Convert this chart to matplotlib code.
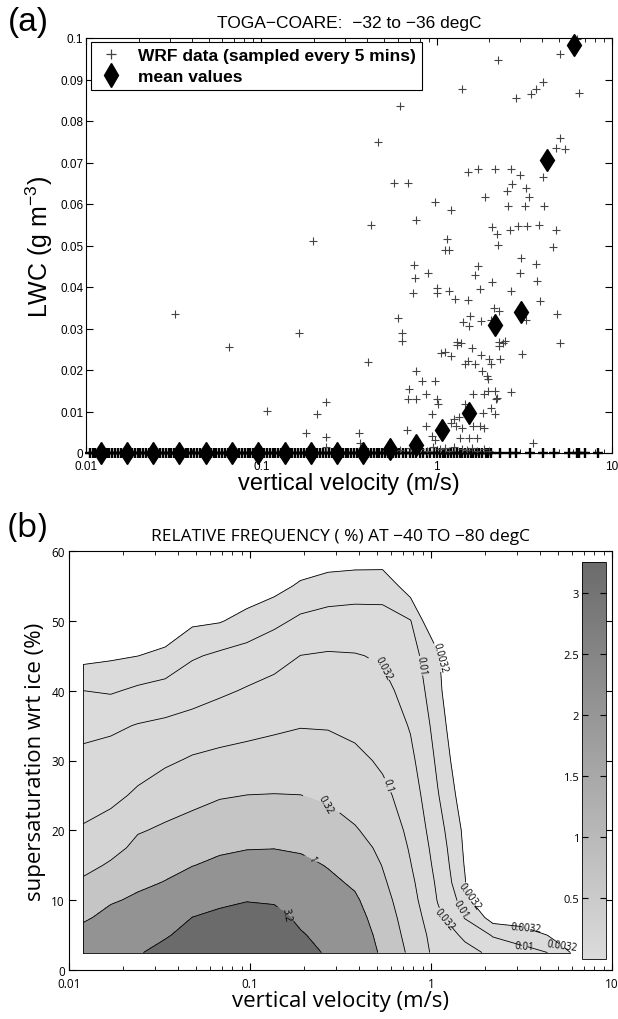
import numpy as np
import matplotlib
matplotlib.use('Agg')
import matplotlib.pyplot as plt
from matplotlib.colors import LinearSegmentedColormap, Normalize
from matplotlib.cm import ScalarMappable
from matplotlib.lines import Line2D

# ---------------- panel (a): LWC vs vertical velocity ----------------
# WRF samples with non-zero LWC (w in m/s, LWC in g m-3)
lwc_w = [2.23, 5.08, 6.3, 1.39, 2.85, 3.46, 3.68, 4.02, 6.5, 0.618,
         0.465, 5.08, 4.77, 5.37, 4.15, 0.571, 0.685, 1.51, 1.71, 2.16,
         2.67, 2.99, 4.04, 2.70, 2.52, 3.24, 3.37, 1.88, 0.975, 1.21,
         2.56, 3.20, 4.08, 0.767, 0.424, 2.08, 2.61, 2.92, 3.29, 3.84,
         4.82, 2.20, 0.198, 1.15, 2.23, 1.11, 1.17, 4.58, 0.741, 3.68,
         1.71, 0.888, 2.97, 0.752, 1.65, 2.08, 3.74, 3.04, 1.01, 1.01,
         1.17, 0.733, 1.77, 2.67, 1.28, 1.51, 3.88, 0.0321, 2.11, 2.28,
         4.84, 0.603, 1.55, 1.42, 1.53, 1.80, 2.03, 3.24, 0.165, 0.634,
         0.634, 1.31, 2.28, 2.46, 5.08, 0.065,
         3.08, 2.67, 0.408, 1.06, 1.12, 1.20, 1.31, 1.59, 1.37, 1.79,
         1.45, 1.51, 1.65, 2.03, 2.00, 2.31, 2.28, 2.40, 0.767, 0.82,
         0.975, 1.81, 1.93, 1.95, 2.14, 1.95, 1.85, 1.61, 2.20, 2.17,
         0.694, 0.69, 0.760, 0.865, 1.01, 1.02, 1.45, 0.233, 0.108, 2.05,
         1.84, 0.208, 0.936, 2.16, 1.34, 1.25, 1.20, 1.29, 0.865, 0.679,
         1.39, 1.61, 1.77, 1.87, 0.180, 0.359, 0.233, 0.936, 0.98, 1.53,
         1.70, 1.35, 3.56, 0.366, 0.233, 0.543,
         0.62, 0.70, 0.80, 0.88, 0.95, 1.05, 1.12, 1.18, 1.25, 1.40,
         1.48, 1.60, 1.70, 1.85, 2.00]
lwc_val = [0.0946, 0.0962, 0.0998, 0.0878, 0.0856, 0.0864, 0.0878, 0.0893, 0.0868, 0.0837,
           0.0750, 0.0760, 0.0736, 0.0732, 0.0712, 0.0650, 0.0650, 0.0676, 0.0684, 0.0684,
           0.0684, 0.0670, 0.0666, 0.0648, 0.0632, 0.0638, 0.0618, 0.0618, 0.0606, 0.0586,
           0.0594, 0.0594, 0.0596, 0.0562, 0.0550, 0.0544, 0.0538, 0.0546, 0.0546, 0.0550,
           0.0538, 0.0528, 0.0510, 0.0516, 0.0502, 0.0488, 0.0490, 0.0496, 0.0454, 0.0456,
           0.0450, 0.0434, 0.0434, 0.0422, 0.0428, 0.0412, 0.0414, 0.0470, 0.0398, 0.0386,
           0.0390, 0.0386, 0.0394, 0.0390, 0.0372, 0.0368, 0.0366, 0.0336, 0.0350, 0.0342,
           0.0336, 0.0326, 0.0330, 0.0316, 0.0306, 0.0318, 0.0320, 0.0320, 0.0288, 0.0288,
           0.0270, 0.0268, 0.0268, 0.0270, 0.0264, 0.0256,
           0.0238, 0.0147, 0.0219, 0.0240, 0.0244, 0.0234, 0.0260, 0.0252, 0.0264, 0.0236,
           0.0215, 0.0222, 0.0214, 0.0214, 0.0226, 0.0226, 0.0258, 0.0266, 0.0198, 0.0173,
           0.0173, 0.0198, 0.0185, 0.0179, 0.0149, 0.0149, 0.0141, 0.0141, 0.0133, 0.0129,
           0.0155, 0.0131, 0.0129, 0.0141, 0.0129, 0.0117, 0.0117, 0.0123, 0.0102, 0.0109,
           0.0097, 0.0093, 0.0093, 0.0093, 0.0087, 0.0081, 0.0073, 0.0065, 0.0065, 0.0056,
           0.0060, 0.0065, 0.0065, 0.0060, 0.0047, 0.0047, 0.0038, 0.0042, 0.0032, 0.0036,
           0.0036, 0.0036, 0.0024, 0.0024, 0.0015, 0.0022,
           0.0008, 0.0012, 0.0010, 0.0006, 0.0014, 0.0009, 0.0012, 0.0005, 0.0015, 0.0010,
           0.0007, 0.0012, 0.0004, 0.0009, 0.0006]

# WRF samples with zero LWC (w in m/s)
zero_w = [0.0105, 0.0109, 0.0113, 0.0117, 0.0122, 0.0126, 0.0131, 0.0136, 0.0141, 0.0146,
          0.0152, 0.0158, 0.0164, 0.0170, 0.0176, 0.0183, 0.0190, 0.0197, 0.0204, 0.0212,
          0.0220, 0.0228, 0.0237, 0.0246, 0.0255, 0.0265, 0.0275, 0.0285, 0.0296, 0.0307,
          0.0319, 0.0331, 0.0343, 0.0356, 0.0370, 0.0384, 0.0398, 0.0413, 0.0429, 0.0445,
          0.0462, 0.0479, 0.0497, 0.0516, 0.0535, 0.0555, 0.0576, 0.0598, 0.0620, 0.0644,
          0.0668, 0.0693, 0.0719, 0.0746, 0.0774, 0.0803, 0.0834, 0.0865, 0.0897, 0.0931,
          0.0966, 0.100, 0.104, 0.108, 0.112, 0.116, 0.120, 0.125, 0.130, 0.134,
          0.140, 0.145, 0.150, 0.156, 0.162, 0.168, 0.174, 0.181, 0.187, 0.194,
          0.202, 0.209, 0.217, 0.225, 0.234, 0.243, 0.252, 0.261, 0.271, 0.281,
          0.292, 0.303, 0.314, 0.326, 0.338, 0.351, 0.364, 0.378, 0.392, 0.407,
          0.422, 0.438, 0.454, 0.471, 0.489, 0.507, 0.526, 0.546, 0.567, 0.588,
          0.61, 0.64, 0.67, 0.70, 0.73, 0.76, 0.80, 0.84, 0.88, 0.92,
          0.96, 1.00, 1.04, 1.08, 1.12, 1.16, 1.20, 1.25, 1.30, 1.35,
          1.40, 1.45, 1.50, 1.56, 1.62, 1.68, 1.75, 1.82, 1.90, 1.97,
          2.05, 2.30, 2.63, 2.85, 3.41, 4.03, 4.65, 5.70, 6.30, 6.50, 7.00, 8.30]

# bin mean values
mean_w = [0.0121, 0.0171, 0.0241, 0.0341, 0.0482, 0.0678, 0.0959, 0.136, 0.191, 0.270,
          0.382, 0.543, 0.76, 1.07, 1.53, 2.14, 3.03, 4.26, 6.1]
mean_lwc = [0, 0, 0, 0, 0, 0, 0, 0, 0, 0,
            0, 0.0010, 0.0019, 0.0056, 0.0097, 0.0308, 0.0340, 0.0706, 0.0984]

# ---------------- panel (b): relative frequency (%) ----------------
w_bins = [0.012, 0.017, 0.024, 0.034, 0.048, 0.068, 0.096, 0.136, 0.19, 0.27,
          0.38, 0.54, 0.77, 1.09, 1.54, 2.2, 3.1, 4.4, 6.2]
ss_bins = [2.5, 5, 7.5, 10, 12.5, 15, 17.5, 20, 25, 30, 35, 40, 45, 50, 55, 60]
# log10 of relative frequency, one list per velocity bin (bottom -> top)
log_freq = [
    [0.30, 0.13, -0.05, -0.24, -0.43, -0.61, -0.78, -0.96, -1.17, -1.37, -1.63, -2.00, -2.66, -3.32, -3.98, -4.0],
    [0.42, 0.27, 0.12, -0.04, -0.24, -0.44, -0.63, -0.82, -1.11, -1.32, -1.57, -2.05, -2.57, -3.09, -3.61, -4.0],
    [0.48, 0.34, 0.20, 0.07, -0.08, -0.23, -0.38, -0.53, -0.92, -1.21, -1.47, -1.91, -2.50, -3.13, -3.75, -4.0],
    [0.62, 0.47, 0.32, 0.17, 0.02, -0.13, -0.27, -0.42, -0.74, -1.07, -1.40, -1.82, -2.35, -2.93, -3.51, -4.0],
    [0.80, 0.65, 0.51, 0.33, 0.16, -0.01, -0.16, -0.32, -0.63, -0.94, -1.32, -1.69, -2.05, -2.59, -3.11, -3.64],
    [0.90, 0.75, 0.59, 0.43, 0.26, 0.09, -0.07, -0.22, -0.53, -0.87, -1.22, -1.57, -1.91, -2.53, -3.26, -4.0],
    [0.95, 0.80, 0.65, 0.49, 0.32, 0.15, -0.02, -0.18, -0.49, -0.82, -1.15, -1.45, -1.82, -2.30, -2.86, -3.41],
    [0.90, 0.76, 0.61, 0.47, 0.31, 0.15, -0.01, -0.16, -0.48, -0.78, -1.08, -1.34, -1.67, -2.11, -2.67, -3.22],
    [0.65, 0.54, 0.43, 0.31, 0.20, 0.08, -0.04, -0.19, -0.49, -0.76, -1.02, -1.25, -1.49, -1.90, -2.41, -2.96],
    [0.45, 0.36, 0.26, 0.17, 0.08, -0.02, -0.16, -0.30, -0.57, -0.80, -1.03, -1.24, -1.45, -1.81, -2.28, -2.83],
    [0.40, 0.29, 0.17, 0.06, -0.06, -0.19, -0.33, -0.46, -0.68, -0.90, -1.10, -1.28, -1.47, -1.79, -2.23, -2.81],
    [-0.10, -0.18, -0.26, -0.34, -0.43, -0.51, -0.60, -0.70, -0.89, -1.07, -1.23, -1.38, -1.55, -1.82, -2.21, -2.82],
    [-0.60, -0.68, -0.75, -0.83, -0.90, -0.98, -1.05, -1.12, -1.25, -1.39, -1.53, -1.68, -1.83, -1.98, -2.75, -3.58],
    [-1.20, -1.26, -1.39, -1.52, -1.59, -1.67, -1.74, -1.82, -1.97, -2.10, -2.22, -2.34, -2.40, -3.24, -4.0, -4.0],
    [-1.36, -1.58, -2.03, -2.24, -2.46, -2.53, -2.58, -2.62, -2.82, -3.02, -3.22, -3.50, -4.0, -4.0, -4.0, -4.0],
    [-1.60, -2.05, -2.72, -3.80, -4.0, -4.0, -4.0, -4.0, -4.0, -4.0, -4.0, -4.0, -4.0, -4.0, -4.0, -4.0],
    [-1.85, -2.19, -2.80, -4.0, -4.0, -4.0, -4.0, -4.0, -4.0, -4.0, -4.0, -4.0, -4.0, -4.0, -4.0, -4.0],
    [-2.00, -2.50, -3.50, -4.0, -4.0, -4.0, -4.0, -4.0, -4.0, -4.0, -4.0, -4.0, -4.0, -4.0, -4.0, -4.0],
    [-2.60, -3.50, -4.0, -4.0, -4.0, -4.0, -4.0, -4.0, -4.0, -4.0, -4.0, -4.0, -4.0, -4.0, -4.0, -4.0],
]
freq_levels = [0.0032, 0.01, 0.032, 0.1, 0.32, 1, 3.2]
level_labels = ['0.0032', '0.01', '0.032', '0.1', '0.32', '1', '3.2']
cbar_ticks = [0.5, 1, 1.5, 2, 2.5, 3]

# ---------------- figure ----------------
plt.rcParams['font.family'] = ['Liberation Sans', 'DejaVu Sans']
plt.rcParams['mathtext.fontset'] = 'custom'
plt.rcParams['mathtext.rm'] = 'Liberation Sans'
plt.rcParams['mathtext.default'] = 'regular'
plt.rcParams['xtick.direction'] = 'in'
plt.rcParams['ytick.direction'] = 'in'
plt.rcParams['contour.negative_linestyle'] = 'solid'

fig = plt.figure(figsize=(6.18, 10.2), dpi=100)

ax1 = fig.add_axes([86 / 618, 1 - 454 / 1020, 526 / 618, 415 / 1020])
ax1.plot(zero_w, np.zeros(len(zero_w)), '+', color='black', ms=7, mew=1.7, clip_on=False)
ax1.plot(lwc_w, lwc_val, '+', color='#444444', ms=6, mew=0.8, clip_on=False)
ax1.plot(mean_w, mean_lwc, 'd', color='black', ms=11.5, clip_on=False, zorder=5)
ax1.set_xscale('log')
ax1.set_xlim(0.01, 10)
ax1.set_ylim(0, 0.1)
ax1.set_xticks([0.01, 0.1, 1, 10])
ax1.set_xticklabels(['0.01', '0.1', '1', '10'])
ax1.set_yticks(np.arange(0, 0.101, 0.01))
ax1.set_yticklabels(['0'] + ['%.2f' % v for v in np.arange(0.01, 0.095, 0.01)] + ['0.1'])
ax1.tick_params(which='both', top=True, right=True, labelsize=8.5, pad=2)
ax1.tick_params(axis='x', pad=5)
ax1.tick_params(which='major', length=5)
ax1.tick_params(which='minor', length=3)
ax1.set_xlabel('vertical velocity (m/s)', fontsize=17, labelpad=0)
ax1.set_ylabel('LWC (g m$^{\u2212 3}$)', fontsize=18, labelpad=4)
ax1.set_title('TOGA\u2212COARE:  \u221232 to \u221236 degC', fontsize=12.5, pad=8)
handles = [Line2D([], [], ls='', marker='+', color='#444444', ms=7, mew=0.9),
           Line2D([], [], ls='', marker='d', color='black', ms=12)]
leg = ax1.legend(handles, ['WRF data (sampled every 5 mins)', 'mean values'],
                 loc='upper left', bbox_to_anchor=(0.009, 0.99), borderaxespad=0,
                 prop={'weight': 'bold', 'size': 12.5}, fancybox=False,
                 edgecolor='black', framealpha=1, handlelength=1.6,
                 handletextpad=0.8, borderpad=0.35, labelspacing=0.3)
leg.get_frame().set_linewidth(0.8)
fig.text(0.012, 0.978, '(a)', fontsize=24, va='center')

# ---------------- panel (b) ----------------
hfont = ['Open Sans', 'DejaVu Sans']
ax2 = fig.add_axes([69 / 618, 1 - 971 / 1020, 543 / 618, 419 / 1020])
W, S = np.meshgrid(w_bins, ss_bins)
L = np.array(log_freq).T
log_levels = np.log10(freq_levels)

cmap = LinearSegmentedColormap.from_list('grey_r', [(0.86, 0.86, 0.86), (0.42, 0.42, 0.42)])
norm = Normalize(0, 3.25)
mids = [0.5 * (freq_levels[i] + freq_levels[i + 1]) for i in range(len(freq_levels) - 1)] + [3.25]
band_colors = [cmap(norm(m)) for m in mids]
ax2.contourf(W, S, L, levels=list(log_levels) + [2.0], colors=band_colors)
cl = ax2.contour(W, S, L, levels=log_levels, colors='black', linewidths=0.6,
                 linestyles='solid')

# outline of the data region along the left and bottom edges
col0 = L[:, 0]
top_left = np.interp(log_levels[0], col0[::-1], np.array(ss_bins)[::-1])
row0 = L[0, :]
k = np.where(row0 >= log_levels[0])[0][-1]
t = (row0[k] - log_levels[0]) / (row0[k] - row0[k + 1])
right_bottom = w_bins[k] + t * (w_bins[k + 1] - w_bins[k])
ax2.plot([w_bins[0], w_bins[0]], [ss_bins[0], top_left], color='black', lw=0.6)
ax2.plot([w_bins[0], right_bottom], [ss_bins[0], ss_bins[0]], color='black', lw=0.6)

fmt = {lv: s for lv, s in zip(cl.levels, level_labels)}
label_pos = [(1.09, 44.8), (0.89, 43.6), (0.58, 43.4), (0.59, 26.5), (0.25, 23.7),
             (0.228, 16.0), (0.16, 8.0), (1.63, 10.6), (1.40, 8.3), (1.15, 6.9),
             (3.37, 6.4), (3.3, 3.8), (5.3, 3.4)]
txts = ax2.clabel(cl, fmt=fmt, fontsize=7, manual=label_pos, inline=True, inline_spacing=1)
for tx in txts:
    tx.set_family(hfont)

ax2.set_xscale('log')
ax2.set_xlim(0.01, 10)
ax2.set_ylim(0, 60)
ax2.set_xticks([0.01, 0.1, 1, 10])
ax2.set_xticklabels(['0.01', '0.1', '1', '10'])
ax2.set_yticks(np.arange(0, 61, 10))
ax2.tick_params(which='both', top=True, right=True, labelsize=8.5, pad=3)
ax2.tick_params(axis='x', pad=5)
ax2.tick_params(which='major', length=5)
ax2.tick_params(which='minor', length=3)
for lab in ax2.get_xticklabels() + ax2.get_yticklabels():
    lab.set_family(hfont)
ax2.set_xlabel('vertical velocity (m/s)', fontsize=16, family=hfont, labelpad=0)
ax2.set_ylabel('supersaturation wrt ice (%)', fontsize=16, family=hfont, labelpad=4)
ax2.set_title('RELATIVE FREQUENCY ( %) AT \u221240 TO \u221280 degC', fontsize=12.5,
              family=hfont, pad=8)
fig.text(0.012, 0.482, '(b)', fontsize=24, va='center', family=hfont)

cax = fig.add_axes([582 / 618, 1 - 960 / 1020, 24 / 618, 397 / 1020])
cb = fig.colorbar(ScalarMappable(norm=norm, cmap=cmap), cax=cax)
cb.set_ticks(cbar_ticks)
cb.set_ticklabels(['0.5', '1', '1.5', '2', '2.5', '3'])
cb.outline.set_linewidth(0.6)
cax.yaxis.set_ticks_position('both')
cax.yaxis.set_label_position('left')
cax.tick_params(axis='y', direction='in', length=4, labelsize=8, left=True, right=True,
                labelleft=True, labelright=False, pad=2)
for lab in cax.get_yticklabels():
    lab.set_family(hfont)

fig.savefig('out.png', dpi=100)
